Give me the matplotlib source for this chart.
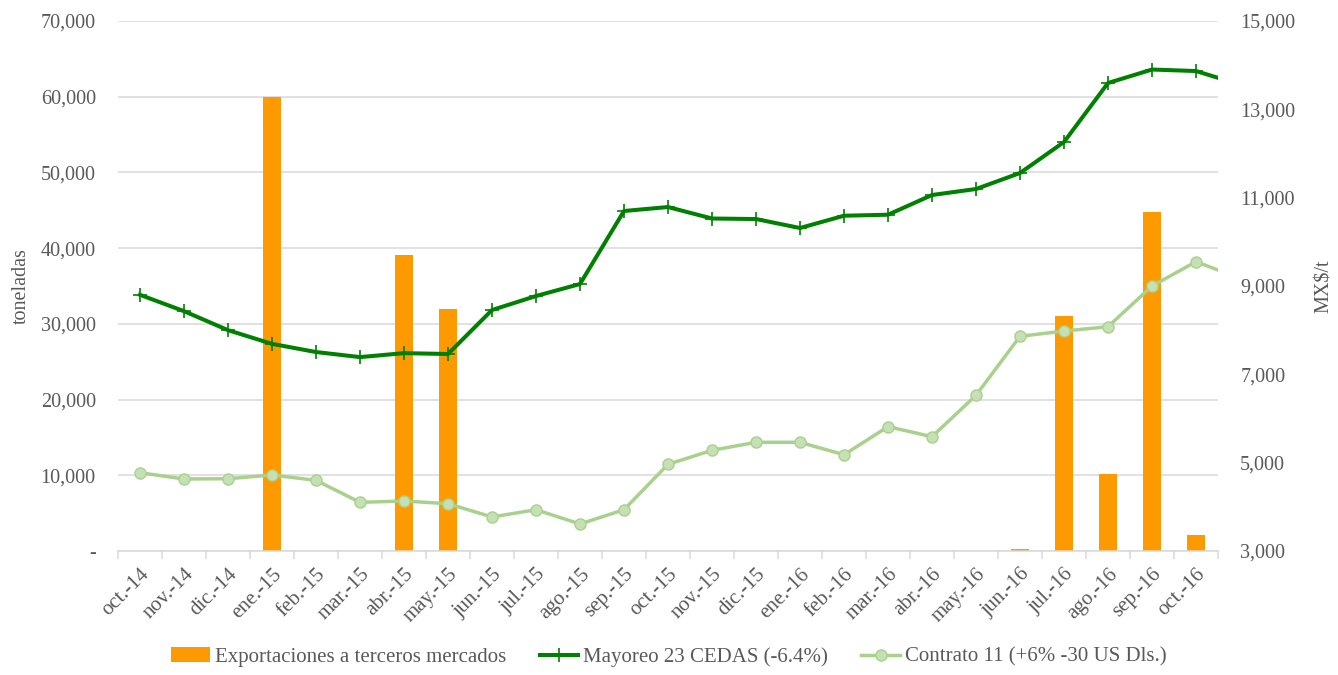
import numpy as np
import matplotlib
matplotlib.use("Agg")
import matplotlib.pyplot as plt
from matplotlib.ticker import FuncFormatter, FixedLocator

plt.rcParams['font.family'] = ['Liberation Serif', 'DejaVu Serif']

# ---- data ----
categories = ["oct.-14", "nov.-14", "dic.-14", "ene.-15", "feb.-15", "mar.-15",
              "abr.-15", "may.-15", "jun.-15", "jul.-15", "ago.-15", "sep.-15",
              "oct.-15", "nov.-15", "dic.-15", "ene.-16", "feb.-16", "mar.-16",
              "abr.-16", "may.-16", "jun.-16", "jul.-16", "ago.-16", "sep.-16",
              "oct.-16", "nov.-16"]
n_visible = 25  # nov.-16 lies just outside the plotted range (lines are clipped)

exportaciones = [50, 0, 0, 60000, 0, 0, 39100, 32000, 0, 0, 0, 0,
                 0, 0, 0, 0, 0, 0, 0, 0, 250, 31000, 10200, 44800, 2100, 0]

mayoreo = [8800, 8430, 8000, 7690, 7505, 7390, 7480, 7460, 8456, 8773, 9045, 10698,
           10788, 10528, 10516, 10313, 10591, 10614, 11060, 11196, 11558, 12260,
           13596, 13901, 13867, 13560]

contrato = [4773, 4630, 4637, 4721, 4600, 4102, 4132, 4071, 3770, 3935, 3611, 3935,
            4963, 5280, 5461, 5461, 5180, 5815, 5588, 6525, 7861, 7980, 8078, 9000,
            9550, 9174]

left_ticks = [0, 10000, 20000, 30000, 40000, 50000, 60000, 70000]
right_ticks = [3000, 5000, 7000, 9000, 11000, 13000, 15000]

label_bar = "Exportaciones a terceros mercados"
label_may = "Mayoreo 23 CEDAS (-6.4%)"
label_con = "Contrato 11 (+6% -30 US Dls.)"

# ---- styles ----
TXT = "#595959"
GRID = "#d9d9d9"
ORANGE = "#ff9900"
DGREEN = "#008000"
LGREEN = "#a9d18e"
LGREEN_FILL = "#c5e0b4"
FS = 14.5
FS_X = 15
FS_LEG = 15

fig = plt.figure(figsize=(13.38, 6.75), dpi=100)
ax = fig.add_axes([118 / 1338, 1 - 551 / 675, 1100 / 1338, 530 / 675])
ax2 = ax.twinx()

x = np.arange(len(categories))

bars = ax.bar(x, exportaciones, width=0.4, color=ORANGE, zorder=2, label=label_bar)

l1, = ax2.plot(x, mayoreo, color=DGREEN, lw=2.9, marker='+', ms=10, mew=1.2,
               mec=DGREEN, label=label_may, zorder=3)
l2, = ax2.plot(x, contrato, color=LGREEN, lw=2.5, marker='o', ms=8, mfc=LGREEN_FILL,
               mec=LGREEN, mew=1.0, label=label_con, zorder=3)

ax.set_xlim(-0.5, n_visible - 0.5)
ax.set_ylim(0, 70000)
ax2.set_ylim(3000, 15000)

ax.yaxis.set_major_locator(FixedLocator(left_ticks))
ax2.yaxis.set_major_locator(FixedLocator(right_ticks))
fmt = FuncFormatter(lambda v, p: "-" if v == 0 else f"{int(v):,}")
ax.yaxis.set_major_formatter(fmt)
ax2.yaxis.set_major_formatter(FuncFormatter(lambda v, p: f"{int(v):,}"))

ax.grid(axis='y', color=GRID, lw=1.1, zorder=0)
ax.set_axisbelow(True)

for a in (ax, ax2):
    for s in ('top', 'left', 'right', 'bottom'):
        a.spines[s].set_visible(False)
ax.spines['bottom'].set_visible(True)
ax.spines['bottom'].set_color(GRID)
ax.spines['bottom'].set_linewidth(1.1)

ax.tick_params(axis='y', length=0, pad=16, labelsize=FS, labelcolor=TXT)
ax2.tick_params(axis='y', length=0, pad=16, labelsize=FS, labelcolor=TXT)

ax.set_xticks(x[:n_visible])
ax.set_xticklabels(categories[:n_visible], rotation=45, ha='right',
                   rotation_mode='anchor', fontsize=FS_X, color=TXT)
ax.set_xticks(np.arange(-0.5, n_visible, 1.0), minor=True)
ax.tick_params(axis='x', which='major', length=0, pad=10)
ax.tick_params(axis='x', which='minor', length=6, color=GRID, width=1.1)

ax.set_ylabel("toneladas", fontsize=FS, color=TXT, labelpad=7)
ax2.set_ylabel("MX$/t", fontsize=FS, color=TXT, labelpad=14)

fig.legend(handles=[bars, l1, l2], labels=[label_bar, label_may, label_con],
           loc='center', bbox_to_anchor=(0.5, 1 - 657 / 675), ncol=3,
           frameon=False, fontsize=FS_LEG, labelcolor=TXT, handlelength=1.85,
           handletextpad=0.25, columnspacing=1.6)

fig.savefig("out.png", dpi=100)
